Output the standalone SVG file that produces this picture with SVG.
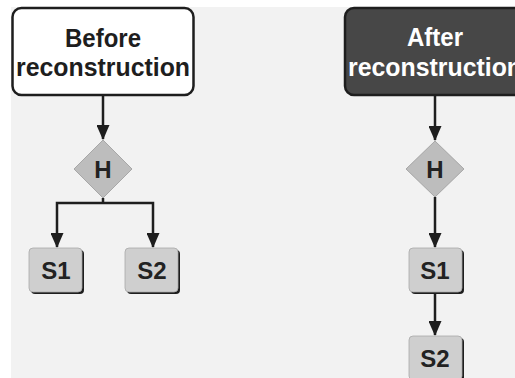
<svg xmlns="http://www.w3.org/2000/svg" width="515" height="378" viewBox="0 0 515 378">
<style>
.t{font-family:"Liberation Sans",Arial,sans-serif;font-weight:bold;text-anchor:middle}
.title{font-size:26px}
.lbl{font-size:24px;fill:#222}
.edge{stroke:#1e1e1e;stroke-width:2.5;fill:none;stroke-linejoin:miter}
.box{fill:#cfcfcf;stroke:#a8a8a8;stroke-width:0.8}
.shadow{fill:#1e1e1e}
.dia{fill:#bdbdbd;stroke:#9a9a9a;stroke-width:0.8}
</style>
<defs>
<marker id="ah" markerWidth="15" markerHeight="13" refX="14" refY="6.5" orient="auto" markerUnits="userSpaceOnUse" viewBox="0 0 15 13">
<path d="M0,0 L15,6.5 L0,13 Z" fill="#1e1e1e"/>
</marker>
</defs>
<rect x="0" y="0" width="515" height="378" fill="#ffffff"/>
<rect x="11" y="7" width="504" height="371" fill="#f2f2f2"/>
<g id="connectors">
<path class="edge" d="M103,95 V139" marker-end="url(#ah)"/>
<path class="edge" d="M103,198 V203"/>
<path class="edge" d="M103,203 H57 V247" marker-end="url(#ah)"/>
<path class="edge" d="M103,203 H153 V247" marker-end="url(#ah)"/>
<path class="edge" d="M435,95 V140" marker-end="url(#ah)"/>
<path class="edge" d="M435,197 V247" marker-end="url(#ah)"/>
<path class="edge" d="M435,294 V335" marker-end="url(#ah)"/>
</g>
<g id="before">
<rect x="12.5" y="8" width="181" height="87" rx="9" fill="#ffffff" stroke="#1e1e1e" stroke-width="2.5"/>
<text class="t title" x="103" y="47" fill="#1e1e1e" textLength="76" lengthAdjust="spacingAndGlyphs">Before</text>
<text class="t title" x="103" y="76" fill="#1e1e1e" textLength="174" lengthAdjust="spacingAndGlyphs">reconstruction</text>
</g>
<g id="after">
<rect x="345" y="8" width="182" height="87" rx="9" fill="#474747" stroke="#1e1e1e" stroke-width="2.5"/>
<text class="t title" x="435" y="46" fill="#ffffff" textLength="56" lengthAdjust="spacingAndGlyphs">After</text>
<text class="t title" x="435" y="76" fill="#ffffff" textLength="174" lengthAdjust="spacingAndGlyphs">reconstruction</text>
</g>
<g id="h-before">
<path class="dia" d="M103,140 L132,169 L103,198 L74,169 Z"/>
<text class="t lbl" x="103" y="178">H</text>
</g>
<g id="s1-before">
<rect class="shadow" x="31" y="250" width="53" height="44" rx="4"/>
<rect class="box" x="29" y="248" width="53" height="44" rx="4"/>
<text class="t lbl" x="56" y="279">S1</text>
</g>
<g id="s2-before">
<rect class="shadow" x="127" y="250" width="53" height="44" rx="4"/>
<rect class="box" x="125" y="248" width="53" height="44" rx="4"/>
<text class="t lbl" x="152" y="279">S2</text>
</g>
<g id="h-after">
<path class="dia" d="M435,141 L464,169 L435,197 L406,169 Z"/>
<text class="t lbl" x="435" y="178">H</text>
</g>
<g id="s1-after">
<rect class="shadow" x="411" y="250" width="53" height="44" rx="4"/>
<rect class="box" x="409" y="248" width="53" height="44" rx="4"/>
<text class="t lbl" x="435" y="279">S1</text>
</g>
<g id="s2-after">
<rect class="shadow" x="411" y="338" width="53" height="44" rx="4"/>
<rect class="box" x="409" y="336" width="53" height="44" rx="4"/>
<text class="t lbl" x="435" y="367">S2</text>
</g>
</svg>
